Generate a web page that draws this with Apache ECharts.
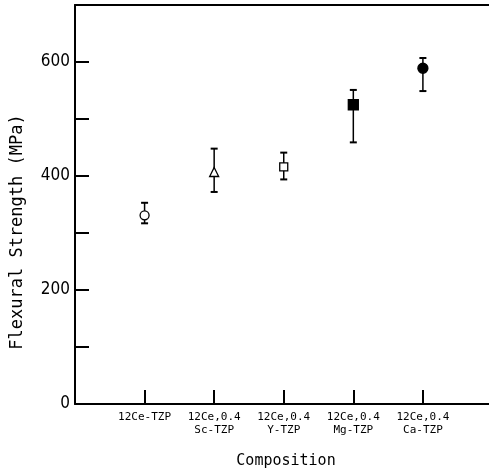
<!DOCTYPE html>
<html>
<head>
<meta charset="utf-8">
<script src="https://cdn.jsdelivr.net/npm/echarts@6/dist/echarts.min.js"></script>
<style>html,body{margin:0;padding:0;background:#fff}#c{width:489px;height:474px}</style>
</head>
<body>
<div id="c"></div>
<script>
const categories = ['12Ce-TZP', '12Ce,0.4\nSc-TZP', '12Ce,0.4\nY-TZP', '12Ce,0.4\nMg-TZP', '12Ce,0.4\nCa-TZP'];
const means = [331, 407, 416, 525, 589];
const upper = [353, 448, 441, 551, 607];
const lower = [317, 372, 394, 459, 549];
const yTickLabels = [0, 200, 400, 600];
const yAxisTitle = 'Flexural Strength (MPa)';
const xAxisTitle = 'Composition';

const markerStyles = [
  {symbol: 'circle', size: 9, fill: '#fff'},
  {symbol: 'triangle', size: 9, fill: '#fff'},
  {symbol: 'rect', size: 8, fill: '#fff'},
  {symbol: 'rect', size: 10, fill: '#000'},
  {symbol: 'circle', size: 10, fill: '#000'}
];

const chart = echarts.init(document.getElementById('c'), null, {renderer: 'canvas'});
const mono = '"DejaVu Sans Mono", monospace';

const errData = categories.map((c, i) => [i + 1, lower[i], upper[i]]);
const ptData = categories.map((c, i) => ({
  value: [i + 1, means[i]],
  symbol: markerStyles[i].symbol,
  symbolSize: markerStyles[i].size,
  itemStyle: {color: markerStyles[i].fill, borderColor: '#000', borderWidth: 1.3, opacity: 1}
}));

chart.setOption({
  animation: false,
  backgroundColor: '#fff',
  grid: {left: 75, right: 0, top: 5, bottom: 70},
  graphic: [{
    type: 'text', x: 18, y: 232, rotation: Math.PI / 2,
    style: {text: yAxisTitle, fontFamily: mono, fontSize: 17, fill: '#000', align: 'center', verticalAlign: 'middle'}
  }, {
    type: 'text', x: 286, y: 461,
    style: {text: xAxisTitle, fontFamily: mono, fontSize: 15, fill: '#000', align: 'center', verticalAlign: 'middle'}
  }],
  xAxis: [{
    type: 'value', min: 0, max: 5.95, interval: 1,
    axisLine: {lineStyle: {color: '#000', width: 2}},
    axisTick: {inside: true, length: 14, lineStyle: {color: '#000', width: 2}},
    splitLine: {show: false},
    axisLabel: {
      margin: 7, fontFamily: mono, fontSize: 11, color: '#000', lineHeight: 13,
      showMaxLabel: false,
      formatter: v => (Number.isInteger(v) && v >= 1 && v <= categories.length) ? categories[v - 1] : ''
    }
  }, {
    type: 'value', position: 'top', min: 0, max: 5.95,
    axisLine: {show: true, lineStyle: {color: '#000', width: 2}},
    axisTick: {show: false}, axisLabel: {show: false}, splitLine: {show: false}
  }],
  yAxis: {
    type: 'value', min: 0, max: 700, interval: 100,
    axisLine: {lineStyle: {color: '#000', width: 2}},
    axisTick: {inside: true, length: 14, lineStyle: {color: '#000', width: 2}},
    splitLine: {show: false},
    axisLabel: {
      margin: 5, fontFamily: '"Liberation Sans Narrow", "DejaVu Sans Condensed", sans-serif', fontSize: 17, color: '#000',
      formatter: v => yTickLabels.includes(v) ? String(v) : ''
    }
  },
  series: [
    {
      type: 'custom',
      data: errData,
      renderItem: function (params, api) {
        const x = api.value(0);
        const lo = api.coord([x, api.value(1)]);
        const hi = api.coord([x, api.value(2)]);
        const w = 3.5;
        return {
          type: 'group',
          children: [
            {type: 'line', shape: {x1: lo[0], y1: lo[1], x2: hi[0], y2: hi[1]}, style: {stroke: '#000', lineWidth: 1.5}},
            {type: 'line', shape: {x1: lo[0] - w, y1: lo[1], x2: lo[0] + w, y2: lo[1]}, style: {stroke: '#000', lineWidth: 2}},
            {type: 'line', shape: {x1: hi[0] - w, y1: hi[1], x2: hi[0] + w, y2: hi[1]}, style: {stroke: '#000', lineWidth: 2}}
          ]
        };
      },
      z: 2
    },
    {
      type: 'scatter',
      data: ptData,
      z: 3
    }
  ]
});
</script>
</body>
</html>
